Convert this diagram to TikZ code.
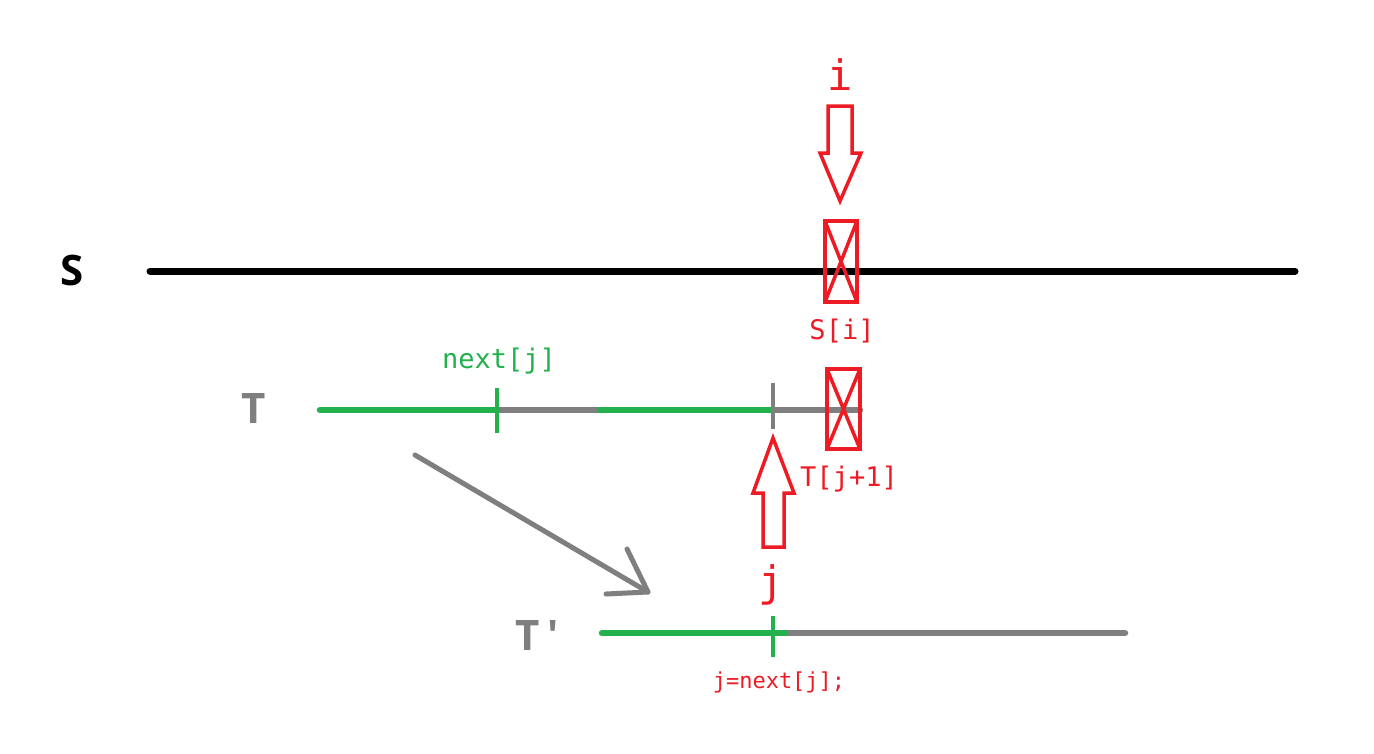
\documentclass[tikz,border=0pt]{standalone}
\usepackage{fontspec}
\setmainfont{Open Sans}
\newfontfamily\monofont{DejaVu Sans Mono}
\definecolor{pred}{RGB}{237,28,36}
\definecolor{pgreen}{RGB}{34,177,76}
\definecolor{pgray}{RGB}{127,127,127}
\tikzset{
  seq/.style={line width=6.5pt, line cap=round},
  tick/.style={line width=4pt},
  redbox/.style={draw=pred, line width=3.5pt},
  hollow/.style={draw=pred, line width=3.5pt, line join=miter},
  biglbl/.style={font=\fontsize{42}{46}\selectfont\bfseries, inner sep=0pt, anchor=base},
  monolbl/.style={font=\monofont\fontsize{27}{30}\selectfont, inner sep=0pt, anchor=base},
}
\begin{document}
\begin{tikzpicture}[x=1pt,y=-1pt]
\fill[white] (0,0) rectangle (1374,753);
\useasboundingbox (0,0) rectangle (1374,753);

% S
\node[biglbl, text=black] (Slbl) at (72,285) {S};
\coordinate (S0) at (150,271);
\coordinate (S1) at (1295,271);
\draw[seq, black, line width=7pt] (S0) -- (S1);

% red box on S
\coordinate (sb1) at (825,221);
\coordinate (sb2) at (857,302);
\draw[redbox] (sb1) rectangle (sb2);
\draw[redbox] (sb1) -- (sb2) (sb1 -| sb2) -- (sb1 |- sb2);
\node[monolbl, text=pred] (Si) at (842,339) {S[i]};

% i arrow
\node[monolbl, text=pred, font=\monofont\fontsize{42}{46}\selectfont] (ilbl) at (840,90) {i};
\draw[hollow] (828,106) -- (852,106) -- (852,153) -- (861,153) -- (840,201) -- (820,153) -- (828,153) -- cycle;

% T
\node[biglbl, text=pgray] (Tlbl) at (254,423) {T};
\coordinate (T0) at (320,410);
\coordinate (Ta) at (497,410);
\coordinate (Tb) at (598,410);
\coordinate (Tc) at (773,410);
\coordinate (T1) at (860,410);
\draw[seq, pgray] (Ta) -- (T1);
\draw[seq, pgreen] (T0) -- (Ta);
\draw[line width=6.5pt, pgreen] (Tb) -- (Tc);
\draw[tick, pgreen] (497,388) -- (497,433);
\draw[tick, pgray] (773,383) -- (773,429);
\node[monolbl, text=pgreen] (nextj) at (499,368) {next[j]};

% red box on T
\coordinate (tb1) at (827,369);
\coordinate (tb2) at (860,449);
\draw[redbox] (tb1) rectangle (tb2);
\draw[redbox] (tb1) -- (tb2) (tb1 -| tb2) -- (tb1 |- tb2);
\node[monolbl, text=pred] (Tj1) at (849,486) {T[j+1]};

% up arrow
\draw[hollow] (763,547) -- (784,547) -- (784,493) -- (794,493) -- (773,438) -- (753,493) -- (763,493) -- cycle;
\node[monolbl, text=pred, font=\monofont\fontsize{42}{46}\selectfont] (jlbl) at (771,596) {j};

% diagonal gray arrow
\coordinate (A0) at (415,455);
\coordinate (A1) at (648,592);
\draw[pgray, line width=5pt, line cap=round] (A0) -- (A1);
\draw[pgray, line width=5pt, line cap=round, line join=round] (627,549) -- (A1) -- (606,594);

% T'
\node[biglbl, text=pgray] (Tplbl) at (537,650) {T\,\textquotesingle};
\coordinate (P0) at (602,633);
\coordinate (Pa) at (785,633);
\coordinate (P1) at (1125,633);
\draw[seq, pgray] (Pa) -- (P1);
\draw[seq, pgreen] (P0) -- (Pa);
\draw[tick, pgreen] (773,616) -- (773,657);
\node[monolbl, text=pred, font=\monofont\fontsize{22}{26}\selectfont] (jnext) at (779,688) {j=next[j];};
\end{tikzpicture}
\end{document}
